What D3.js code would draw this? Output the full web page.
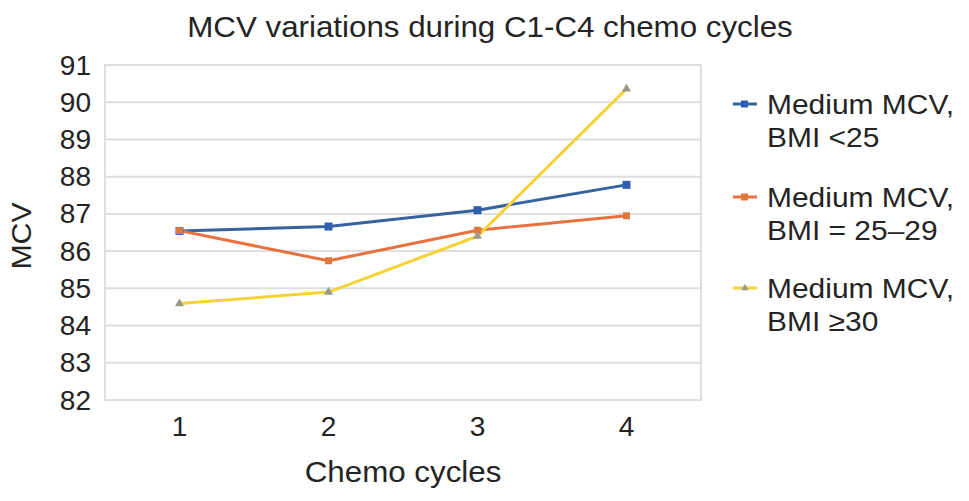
<!DOCTYPE html>
<html>
<head>
<meta charset="utf-8">
<script src="https://cdn.jsdelivr.net/npm/d3@7"></script>
<style>
	body { margin: 0; background: #fff; }
	text { font-family: "Liberation Sans", Arial, Helvetica, sans-serif; fill: #242424; }
</style>
</head>
<body>
<script>
"use strict";

//chart data
let cycles = ["1", "2", "3", "4"];
let y_ticks = [82, 83, 84, 85, 86, 87, 88, 89, 90, 91];
let bmi_under_25 = [86.54, 86.66, 87.1, 87.78];
let bmi_25_29 = [86.55, 85.74, 86.56, 86.95];
let bmi_over_30 = [84.59, 84.9, 86.4, 90.36];
let series_names = [["Medium MCV,", "BMI <25"], ["Medium MCV,", "BMI = 25\u201329"], ["Medium MCV,", "BMI \u226530"]];
let series_colors = ["#3563a0", "#e8713f", "#f6d23a"];
let marker_colors = ["#2f5fb0", "#e0783a", "#9a9a8a"];

(function()
{
	let width = 969, height = 501;
	let left = 105, right = 701, top = 65, bottom = 400;
	let sx = 1.08;

	let svg = d3.select("body").append("svg")
		.attr("width", width)
		.attr("height", height);

	let x = d3.scalePoint().domain(cycles).range([left, right]).padding(0.5);
	let y = d3.scaleLinear().domain([82, 91]).range([bottom, top]);

	//grid lines
	svg.append("g")
		.selectAll("line")
		.data(y_ticks)
		.join("line")
		.attr("x1", left).attr("x2", right)
		.attr("y1", function(d) { return y(d); })
		.attr("y2", function(d) { return y(d); })
		.attr("stroke", "#dedede")
		.attr("stroke-width", 2);
	svg.append("rect")
		.attr("x", left).attr("y", top)
		.attr("width", right - left).attr("height", bottom - top)
		.attr("fill", "none")
		.attr("stroke", "#dedede")
		.attr("stroke-width", 2);

	//y tick labels
	svg.append("g")
		.selectAll("text")
		.data(y_ticks)
		.join("text")
		.attr("transform", function(d) { return "translate(91," + (y(d) + 9.5) + ") scale(1.04,1)"; })
		.attr("text-anchor", "end")
		.attr("font-size", 27)
		.text(function(d) { return d; });

	//x tick labels
	svg.append("g")
		.selectAll("text")
		.data(cycles)
		.join("text")
		.attr("transform", function(d) { return "translate(" + x(d) + ",436) scale(1.04,1)"; })
		.attr("text-anchor", "middle")
		.attr("font-size", 27)
		.text(function(d) { return d; });

	//titles
	svg.append("text")
		.attr("transform", "translate(490,37) scale(" + sx + ",1)")
		.attr("text-anchor", "middle")
		.attr("font-size", 29)
		.text("MCV variations during C1-C4 chemo cycles");
	svg.append("text")
		.attr("transform", "translate(403,482) scale(" + sx + ",1)")
		.attr("text-anchor", "middle")
		.attr("font-size", 29)
		.text("Chemo cycles");
	svg.append("text")
		.attr("transform", "translate(31,236) rotate(-90) scale(" + sx + ",1)")
		.attr("text-anchor", "middle")
		.attr("font-size", 28)
		.text("MCV");

	//lines and markers
	let series = [bmi_under_25, bmi_25_29, bmi_over_30];
	let line = d3.line()
		.x(function(d, i) { return x(cycles[i]); })
		.y(function(d) { return y(d); });
	let plot = svg.append("g");
	series.forEach(function(values, k)
	{
		plot.append("path")
			.attr("d", line(values))
			.attr("fill", "none")
			.attr("stroke", series_colors[k])
			.attr("stroke-width", 3)
			.attr("stroke-linejoin", "round");
	});
	series.forEach(function(values, k)
	{
		let g = plot.append("g");
		if (k == 2)
		{
			g.selectAll("path")
				.data(values)
				.join("path")
				.attr("d", d3.symbol(d3.symbolTriangle, 36))
				.attr("transform", function(d, i) { return "translate(" + x(cycles[i]) + "," + y(d) + ")"; })
				.attr("fill", marker_colors[k]);
		}
		else
		{
			let s = k == 0 ? 8 : 7;
			g.selectAll("rect")
				.data(values)
				.join("rect")
				.attr("x", function(d, i) { return x(cycles[i]) - s / 2; })
				.attr("y", function(d) { return y(d) - s / 2; })
				.attr("width", s).attr("height", s)
				.attr("fill", marker_colors[k]);
		}
	});

	//legend
	let legend_y = [104, 197, 288];
	let legend = svg.append("g");
	series_names.forEach(function(names, k)
	{
		let ly = legend_y[k];
		legend.append("line")
			.attr("x1", 733).attr("x2", 757)
			.attr("y1", ly).attr("y2", ly)
			.attr("stroke", series_colors[k])
			.attr("stroke-width", 3);
		if (k == 2)
		{
			legend.append("path")
				.attr("d", d3.symbol(d3.symbolTriangle, 24))
				.attr("transform", "translate(745," + ly + ")")
				.attr("fill", marker_colors[k]);
		}
		else
		{
			legend.append("rect")
				.attr("x", 741).attr("y", ly - 3.5)
				.attr("width", 7).attr("height", 7)
				.attr("fill", marker_colors[k]);
		}
		names.forEach(function(name, j)
		{
			legend.append("text")
				.attr("transform", "translate(767," + (ly + 9.5 + j * 33) + ") scale(1.07,1)")
				.attr("font-size", 28)
				.text(name);
		});
	});
})();
</script>
</body>
</html>
